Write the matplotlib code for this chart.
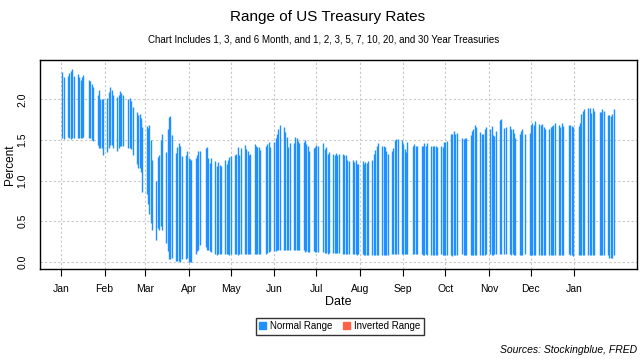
import matplotlib
matplotlib.use("Agg")
import matplotlib.pyplot as plt
import matplotlib.dates as mdates
from matplotlib.patches import Patch
import pandas as pd

plt.rcParams['font.family'] = ['Liberation Sans', 'DejaVu Sans']

# trading days (bond market holidays removed)
holidays = ['2020-01-20', '2020-02-17', '2020-04-10', '2020-05-25', '2020-07-03',
            '2020-09-07', '2020-10-12', '2020-11-11', '2020-11-26', '2020-12-25',
            '2021-01-01', '2021-01-18']
days = pd.bdate_range('2020-01-02', '2021-01-29')
days = days[~days.isin(pd.to_datetime(holidays))]

# highest rate of the day (percent), month by month
high = (
    [2.34, 2.27, 2.29, 2.32, 2.35, 2.38, 2.29, 2.31, 2.27, 2.24, 2.27, 2.30, 2.24, 2.23, 2.19, 2.15, 2.05, 2.11, 2.01, 2.01, 2.01]
    + [2.02, 2.09, 2.15, 2.11, 2.05, 2.03, 2.05, 2.10, 2.08, 2.06, 2.01, 2.02, 1.98, 1.90, 1.84, 1.81, 1.82, 1.77, 1.66]
    + [1.67, 1.65, 1.68, 1.50, 1.25, 1.00, 1.29, 1.31, 1.50, 1.57, 1.35, 1.63, 1.78, 1.79, 1.56, 1.34, 1.41, 1.46, 1.42, 1.30, 1.31, 1.36]
    + [1.28, 1.26, 1.25, 1.28, 1.32, 1.37, 1.36, 1.40, 1.41, 1.28, 1.22, 1.28, 1.24, 1.18, 1.23, 1.19, 1.18, 1.25, 1.20, 1.25, 1.29]
    + [1.30, 1.31, 1.33, 1.41, 1.31, 1.40, 1.44, 1.39, 1.36, 1.31, 1.33, 1.45, 1.43, 1.41, 1.41, 1.38, 1.43, 1.45, 1.47, 1.41]
    + [1.48, 1.52, 1.57, 1.63, 1.68, 1.66, 1.60, 1.54, 1.41, 1.46, 1.46, 1.54, 1.52, 1.49, 1.46, 1.47, 1.50, 1.45, 1.43, 1.37, 1.40, 1.41]
    + [1.44, 1.43, 1.46, 1.39, 1.41, 1.33, 1.35, 1.33, 1.31, 1.34, 1.32, 1.33, 1.33, 1.31, 1.31, 1.25, 1.24, 1.25, 1.23, 1.25, 1.20, 1.20]
    + [1.24, 1.20, 1.23, 1.21, 1.24, 1.25, 1.33, 1.38, 1.42, 1.46, 1.43, 1.42, 1.41, 1.37, 1.33, 1.36, 1.40, 1.50, 1.51, 1.51, 1.50]
    + [1.45, 1.39, 1.35, 1.47, 1.43, 1.45, 1.43, 1.42, 1.42, 1.43, 1.46, 1.43, 1.46, 1.43, 1.42, 1.42, 1.42, 1.41, 1.42, 1.41, 1.47]
    + [1.47, 1.49, 1.57, 1.57, 1.61, 1.57, 1.58, 1.52, 1.51, 1.52, 1.52, 1.56, 1.61, 1.63, 1.68, 1.66, 1.60, 1.57, 1.57, 1.63, 1.66]
    + [1.63, 1.67, 1.56, 1.55, 1.61, 1.74, 1.76, 1.65, 1.66, 1.67, 1.63, 1.63, 1.58, 1.53, 1.57, 1.61, 1.63, 1.57, 1.58]
    + [1.68, 1.71, 1.68, 1.73, 1.70, 1.68, 1.70, 1.66, 1.63, 1.63, 1.66, 1.67, 1.68, 1.71, 1.68, 1.66, 1.71, 1.67, 1.68, 1.68, 1.67, 1.66]
    + [1.67, 1.71, 1.82, 1.86, 1.88, 1.89, 1.89, 1.83, 1.89, 1.86, 1.84, 1.84, 1.88, 1.86, 1.81, 1.81, 1.79, 1.82, 1.88]
)

# lowest rate of the day (percent)
low = (
    [1.52, 1.51, 1.54, 1.53, 1.51, 1.52, 1.52, 1.52, 1.53, 1.53, 1.53, 1.54, 1.52, 1.52, 1.50, 1.49, 1.44, 1.40, 1.40, 1.40, 1.32]
    + [1.35, 1.40, 1.44, 1.44, 1.40, 1.37, 1.40, 1.43, 1.43, 1.42, 1.40, 1.40, 1.39, 1.31, 1.20, 1.15, 1.15, 1.10, 0.86]
    + [0.83, 0.71, 0.59, 0.48, 0.39, 0.27, 0.42, 0.39, 0.44, 0.39, 0.23, 0.13, 0.03, 0.03, 0.04, 0.01, 0.01, 0.01, 0.00, 0.03, 0.03, 0.05]
    + [0.00, 0.00, 0.00, 0.09, 0.13, 0.14, 0.20, 0.18, 0.15, 0.14, 0.13, 0.12, 0.10, 0.08, 0.09, 0.09, 0.09, 0.09, 0.09, 0.09, 0.08]
    + [0.09, 0.09, 0.09, 0.08, 0.09, 0.09, 0.10, 0.09, 0.09, 0.09, 0.09, 0.10, 0.09, 0.09, 0.09, 0.09, 0.10, 0.11, 0.12, 0.13]
    + [0.13, 0.13, 0.14, 0.14, 0.14, 0.14, 0.14, 0.14, 0.14, 0.14, 0.14, 0.14, 0.14, 0.14, 0.14, 0.14, 0.12, 0.13, 0.12, 0.12, 0.13, 0.12]
    + [0.12, 0.12, 0.12, 0.11, 0.11, 0.10, 0.11, 0.11, 0.11, 0.11, 0.11, 0.11, 0.10, 0.09, 0.09, 0.09, 0.09, 0.10, 0.09, 0.09, 0.08, 0.09]
    + [0.09, 0.08, 0.08, 0.08, 0.08, 0.08, 0.08, 0.08, 0.08, 0.08, 0.08, 0.08, 0.08, 0.08, 0.08, 0.09, 0.09, 0.09, 0.09, 0.09, 0.10]
    + [0.10, 0.09, 0.09, 0.09, 0.10, 0.09, 0.09, 0.09, 0.09, 0.08, 0.08, 0.09, 0.08, 0.08, 0.08, 0.08, 0.08, 0.08, 0.09, 0.08, 0.08]
    + [0.08, 0.08, 0.08, 0.07, 0.08, 0.08, 0.08, 0.09, 0.08, 0.08, 0.08, 0.08, 0.08, 0.08, 0.08, 0.08, 0.08, 0.08, 0.08, 0.08, 0.09]
    + [0.09, 0.08, 0.08, 0.09, 0.10, 0.10, 0.09, 0.09, 0.09, 0.09, 0.08, 0.09, 0.08, 0.08, 0.08, 0.08, 0.08, 0.09, 0.08]
    + [0.08, 0.08, 0.08, 0.08, 0.08, 0.08, 0.08, 0.08, 0.08, 0.08, 0.08, 0.08, 0.08, 0.08, 0.08, 0.08, 0.08, 0.08, 0.09, 0.08, 0.08, 0.07]
    + [0.08, 0.08, 0.08, 0.08, 0.08, 0.08, 0.08, 0.08, 0.08, 0.08, 0.08, 0.08, 0.08, 0.08, 0.08, 0.05, 0.05, 0.05, 0.08]
)

month_ticks = pd.date_range('2020-01-01', '2021-01-01', freq='MS')
y_ticks = [0.0, 0.5, 1.0, 1.5, 2.0]

fig = plt.figure(figsize=(6.4, 3.6), dpi=100)
ax = fig.add_axes([0.0625, 0.2528, 0.9325, 0.5805])

grid_style = dict(color='#c8c8c8', linestyle=(0, (2, 2)), linewidth=0.8, zorder=0)
for t in month_ticks:
    ax.axvline(t, **grid_style)
for v in y_ticks:
    ax.axhline(v, **grid_style)

ax.vlines(days, low, high, color='dodgerblue', linewidth=1.0, zorder=2)

ax.set_xlim(pd.Timestamp('2019-12-17'), pd.Timestamp('2021-02-14 12:00'))
ax.set_ylim(-0.09, 2.485)

ax.set_xticks(month_ticks)
ax.xaxis.set_major_formatter(mdates.DateFormatter('%b'))
ax.tick_params(axis='x', direction='out', length=5, width=0.8, pad=6, labelsize=7.5)
ax.set_yticks(y_ticks)
ax.set_yticklabels(['0.0', '0.5', '1.0', '1.5', '2.0'], rotation=90, va='center')
ax.tick_params(axis='y', length=0, pad=9, labelsize=7.5)
for s in ax.spines.values():
    s.set_linewidth(1.0)

ax.set_xlabel('Date', fontsize=9, labelpad=1)
ax.set_ylabel('Percent', fontsize=8.5)
ax.yaxis.set_label_coords(-0.040, 0.5)

fig.text(0.512, 0.953, 'Range of US Treasury Rates', ha='center', va='center', fontsize=11)
fig.text(0.506, 0.889, 'Chart Includes 1, 3, and 6 Month, and 1, 2, 3, 5, 7, 10, 20, and 30 Year Treasuries',
         ha='center', va='center', fontsize=7)

handles = [Patch(color='dodgerblue', label='Normal Range'),
           Patch(color='tomato', label='Inverted Range')]
leg = fig.legend(handles=handles, loc='center', bbox_to_anchor=(0.531, 0.094), ncol=2,
                 fontsize=7, frameon=True, fancybox=False, edgecolor='black',
                 handlelength=0.7, handleheight=0.7, handletextpad=0.4, columnspacing=1.1,
                 borderpad=0.35)
leg.get_frame().set_linewidth(1.0)

fig.text(0.995, 0.028, 'Sources: Stockingblue, FRED', ha='right', va='center',
         fontsize=7.5, style='italic')

fig.savefig('out.png', dpi=100)
